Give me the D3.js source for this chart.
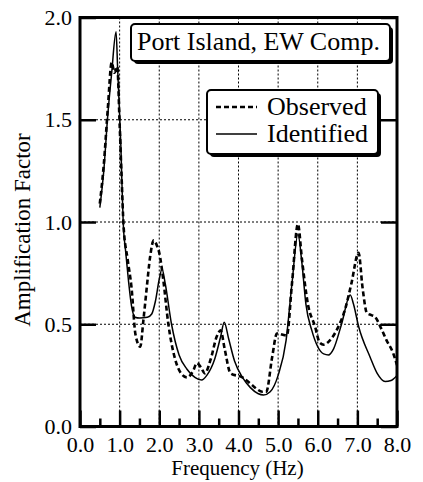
<!DOCTYPE html>
<html>
<head>
<meta charset="utf-8">
<script src="https://cdn.jsdelivr.net/npm/d3@7"></script>
<style>
  body { margin: 0; background: #fff; }
  svg { display: block; }
  text { font-family: "Liberation Serif", "Times New Roman", serif; fill: #000; }
</style>
</head>
<body>
<div id="chart"></div>
<script>
// observed spectral ratio (dashed)
var obsFreq = [0.5, 0.6, 0.7, 0.8, 0.87, 0.94, 1.0, 1.05, 1.1, 1.2, 1.3, 1.4, 1.52, 1.6, 1.68, 1.77, 1.86, 1.95, 2.0, 2.1, 2.23, 2.4, 2.55, 2.7, 2.85, 2.95, 3.05, 3.15, 3.3, 3.45, 3.55, 3.65, 3.8, 4.1, 4.3, 4.45, 4.6, 4.7, 4.85, 4.97, 5.1, 5.22, 5.35, 5.5, 5.6, 5.75, 5.93, 6.05, 6.15, 6.3, 6.5, 6.7, 6.85, 7.03, 7.13, 7.24, 7.35, 7.45, 7.6, 7.74, 7.9, 8.0];
var obsAmp  = [1.09, 1.28, 1.55, 1.78, 1.73, 1.76, 1.48, 1.22, 0.98, 0.82, 0.68, 0.45, 0.39, 0.52, 0.67, 0.83, 0.91, 0.88, 0.85, 0.72, 0.50, 0.33, 0.26, 0.24, 0.27, 0.31, 0.29, 0.26, 0.33, 0.44, 0.47, 0.38, 0.26, 0.24, 0.21, 0.185, 0.17, 0.17, 0.34, 0.455, 0.45, 0.445, 0.70, 0.99, 0.82, 0.60, 0.49, 0.41, 0.40, 0.42, 0.48, 0.58, 0.70, 0.85, 0.68, 0.555, 0.545, 0.535, 0.48, 0.42, 0.36, 0.30];

// identified model (solid)
var idFreq = [0.5, 0.6, 0.7, 0.8, 0.91, 0.95, 1.0, 1.03, 1.06, 1.09, 1.15, 1.22, 1.3, 1.39, 1.5, 1.7, 1.81, 1.9, 2.0, 2.07, 2.15, 2.31, 2.5, 2.7, 2.9, 3.07, 3.2, 3.4, 3.55, 3.64, 3.75, 3.9, 4.1, 4.3, 4.5, 4.63, 4.8, 5.0, 5.2, 5.35, 5.5, 5.6, 5.7, 5.85, 6.0, 6.15, 6.27, 6.4, 6.6, 6.82, 6.9, 7.03, 7.32, 7.5, 7.7, 7.85, 8.0];
var idAmp  = [1.07, 1.25, 1.52, 1.73, 1.93, 1.75, 1.52, 1.38, 1.18, 1.0, 0.86, 0.72, 0.59, 0.534, 0.53, 0.534, 0.55, 0.61, 0.72, 0.77, 0.70, 0.50, 0.35, 0.28, 0.24, 0.227, 0.25, 0.33, 0.44, 0.51, 0.43, 0.32, 0.24, 0.19, 0.16, 0.154, 0.17, 0.25, 0.42, 0.70, 0.94, 0.80, 0.60, 0.47, 0.39, 0.355, 0.35, 0.38, 0.50, 0.643, 0.60, 0.49, 0.34, 0.26, 0.22, 0.225, 0.25];

var xTicks = [0, 1, 2, 3, 4, 5, 6, 7, 8];
var xMinor = [0.5, 1.5, 2.5, 3.5, 4.5, 5.5, 6.5, 7.5];
var yTicks = [0, 0.5, 1.0, 1.5, 2.0];
var seriesNames = ["Observed", "Identified"];

var width = 423, height = 482;
var pLeft = 80, pRight = 397, pTop = 17.5, pBottom = 426.5;

var svg = d3.select("#chart").append("svg")
    .attr("width", width)
    .attr("height", height);

var x = d3.scaleLinear().domain([0, 8]).range([pLeft, pRight]);
var y = d3.scaleLinear().domain([0, 2]).range([pBottom, pTop]);

// dotted grid
svg.append("g").selectAll("line")
    .data(xTicks.slice(1, -1))
    .enter().append("line")
    .attr("x1", function (d) { return x(d) })
    .attr("x2", function (d) { return x(d) })
    .attr("y1", pTop)
    .attr("y2", pBottom)
    .attr("stroke", "#000")
    .attr("stroke-width", 1)
    .attr("stroke-dasharray", "2,2");

svg.append("g").selectAll("line")
    .data(yTicks.slice(1, -1))
    .enter().append("line")
    .attr("x1", pLeft)
    .attr("x2", pRight)
    .attr("y1", function (d) { return y(d) })
    .attr("y2", function (d) { return y(d) })
    .attr("stroke", "#000")
    .attr("stroke-width", 1)
    .attr("stroke-dasharray", "2,2");

// curves
svg.append("clipPath").attr("id", "plotclip")
    .append("rect")
    .attr("x", pLeft).attr("y", pTop)
    .attr("width", pRight - pLeft).attr("height", pBottom - pTop);

var line = d3.line()
    .x(function (d) { return x(d[0]) })
    .y(function (d) { return y(d[1]) })
    .curve(d3.curveMonotoneX);

var obsData = obsFreq.map(function (f, i) { return [f, obsAmp[i]] });
var idData = idFreq.map(function (f, i) { return [f, idAmp[i]] });

svg.append("path")
    .datum(idData)
    .attr("clip-path", "url(#plotclip)")
    .attr("d", line)
    .attr("fill", "none")
    .attr("stroke", "#000")
    .attr("stroke-width", 1.5);

svg.append("path")
    .datum(obsData)
    .attr("clip-path", "url(#plotclip)")
    .attr("d", line)
    .attr("fill", "none")
    .attr("stroke", "#000")
    .attr("stroke-width", 2.6)
    .attr("stroke-dasharray", "5,3");

// axes
var xAxis = d3.axisBottom(x)
    .tickValues(xTicks)
    .tickFormat(d3.format(".1f"))
    .tickSizeInner(-16)
    .tickSizeOuter(0)
    .tickPadding(10);

var gx = svg.append("g")
    .attr("transform", "translate(0," + pBottom + ")")
    .call(xAxis);

var gxm = svg.append("g")
    .attr("transform", "translate(0," + pBottom + ")")
    .call(d3.axisBottom(x).tickValues(xMinor).tickFormat("").tickSizeInner(-8).tickSizeOuter(0));

var yAxis = d3.axisLeft(y)
    .tickValues(yTicks)
    .tickFormat(d3.format(".1f"))
    .tickSizeInner(-16)
    .tickSizeOuter(0)
    .tickPadding(8);

var gy = svg.append("g")
    .attr("transform", "translate(" + pLeft + ",0)")
    .call(yAxis);

var gyr = svg.append("g")
    .attr("transform", "translate(" + pRight + ",0)")
    .call(d3.axisRight(y).tickValues(yTicks).tickFormat("").tickSizeInner(-16).tickSizeOuter(0));

[gx, gxm, gy, gyr].forEach(function (g) {
    g.select(".domain").remove();
    g.selectAll(".tick line").attr("stroke", "#000").attr("stroke-width", 2.5);
    g.selectAll(".tick text")
        .style("font-family", "Liberation Serif, serif")
        .style("font-size", "22px")
        .attr("fill", "#000");
});

// frame
svg.append("rect")
    .attr("x", pLeft)
    .attr("y", pTop)
    .attr("width", pRight - pLeft)
    .attr("height", pBottom - pTop)
    .attr("fill", "none")
    .attr("stroke", "#000")
    .attr("stroke-width", 3);

// axis titles
svg.append("text")
    .attr("x", (pLeft + pRight) / 2 - 1)
    .attr("y", 475)
    .style("text-anchor", "middle")
    .style("font-size", "21px")
    .text("Frequency (Hz)");

svg.append("text")
    .attr("transform", "translate(30,230) rotate(-90)")
    .style("text-anchor", "middle")
    .style("font-size", "23px")
    .text("Amplification Factor");

// boxes with shadow
function shadowBox(bx, by, bw, bh) {
    svg.append("rect")
        .attr("x", bx + 3).attr("y", by + 3)
        .attr("width", bw).attr("height", bh)
        .attr("rx", 4)
        .attr("fill", "#000");
    svg.append("rect")
        .attr("x", bx).attr("y", by)
        .attr("width", bw).attr("height", bh)
        .attr("rx", 4)
        .attr("fill", "#fff")
        .attr("stroke", "#000")
        .attr("stroke-width", 2);
}

shadowBox(131, 24, 259, 37);
svg.append("text")
    .attr("x", 137)
    .attr("y", 50)
    .style("font-size", "26px")
    .text("Port Island, EW Comp.");

shadowBox(207, 90, 171, 64);

var legends = svg.selectAll("g.legend")
    .data(seriesNames)
    .enter().append("g")
    .attr("class", "legend")
    .attr("transform", function (d, i) {
        return "translate(0," + i * 27 + ")"
    });

legends.append("line")
    .attr("x1", 216)
    .attr("x2", 257)
    .attr("y1", 107)
    .attr("y2", 107)
    .attr("stroke", "#000")
    .attr("stroke-width", function (d, i) { return i === 0 ? 2.6 : 1.5 })
    .attr("stroke-dasharray", function (d, i) { return i === 0 ? "5,3" : null });

legends.append("text")
    .attr("x", 267)
    .attr("y", 115)
    .style("font-size", "26px")
    .text(function (d) { return d });
</script>
</body>
</html>
